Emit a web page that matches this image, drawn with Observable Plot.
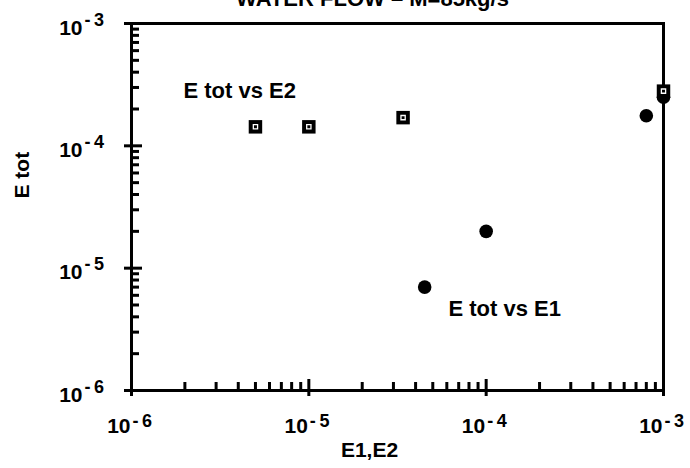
<!DOCTYPE html>
<html><head><meta charset="utf-8">
<script src="https://cdn.jsdelivr.net/npm/d3@7"></script>
<script src="https://cdn.jsdelivr.net/npm/@observablehq/plot@0.6"></script>
<style>body{margin:0;background:#fff;} svg{display:block;}</style>
</head><body><div id="chart"></div>
<script>
// E tot vs E2 (open squares)
const e2X = [5e-6, 1e-5, 3.4e-5, 1e-3];
const e2Y = [1.43e-4, 1.43e-4, 1.7e-4, 2.8e-4];
// E tot vs E1 (filled circles)
const e1X = [4.5e-5, 1e-4, 8e-4, 1e-3];
const e1Y = [7e-6, 2e-5, 1.76e-4, 2.5e-4];
// axis ticks
const decadeTicks = [1e-6, 1e-5, 1e-4, 1e-3];
const tickExponents = ["-6", "-5", "-4", "-3"];
const minorMultipliers = [2, 3, 4, 5, 6, 7, 8, 9];
const titleText = "WATER FLOW \u2013 M=85kg/s";

const minorTicks = decadeTicks.slice(0, -1).flatMap(d => minorMultipliers.map(m => m * d));
const e2 = e2X.map((x, i) => ({x, y: e2Y[i]}));
const e1 = e1X.map((x, i) => ({x, y: e1Y[i]}));
const expText = (d, i) => tickExponents[i].replace("-", "-\u2009");

const W = 690, H = 468, mL = 131, mR = 27, mT = 23, mB = 78;
const fw = W - mL - mR, fh = H - mT - mB;
const font = "Liberation Sans, Arial, Helvetica, sans-serif";

const chart = Plot.plot({
  width: W, height: H,
  marginLeft: mL, marginRight: mR, marginTop: mT, marginBottom: mB,
  style: {fontFamily: font, background: "#fff", overflow: "hidden"},
  x: {type: "log", domain: [1e-6, 1e-3]},
  y: {type: "log", domain: [1e-6, 1e-3]},
  marks: [
    // outward stubs of the major ticks
    Plot.axisX({ticks: decadeTicks, tickSize: 6, tickFormat: () => "", label: null, strokeWidth: 3, anchor: "bottom"}),
    Plot.axisY({ticks: decadeTicks, tickSize: 7, tickFormat: () => "", label: null, strokeWidth: 3, anchor: "left"}),
    // minor ticks (inward)
    Plot.ruleX(minorTicks, {x: d => d, insetTop: fh - 8, stroke: "#000", strokeWidth: 3}),
    Plot.ruleY(minorTicks, {y: d => d, insetRight: fw - 8, stroke: "#000", strokeWidth: 3}),
    // major ticks (inward)
    Plot.ruleX(decadeTicks, {x: d => d, insetTop: fh - 11, stroke: "#000", strokeWidth: 3}),
    Plot.ruleY(decadeTicks, {y: d => d, insetRight: fw - 11, stroke: "#000", strokeWidth: 3}),
    Plot.frame({stroke: "#000", strokeWidth: 3}),
    // x tick labels
    Plot.text(decadeTicks, {x: d => d, frameAnchor: "bottom", text: () => "10", textAnchor: "end", lineAnchor: "bottom", dy: 42, dx: -1, fontSize: 21, fontWeight: "bold"}),
    Plot.text(decadeTicks, {x: d => d, frameAnchor: "bottom", text: expText, textAnchor: "start", lineAnchor: "bottom", dy: 36, dx: 1, fontSize: 18, fontWeight: "bold"}),
    // y tick labels
    Plot.text(decadeTicks, {y: d => d, frameAnchor: "left", text: () => "10", textAnchor: "end", lineAnchor: "bottom", dy: 11, dx: -49, fontSize: 21, fontWeight: "bold"}),
    Plot.text(decadeTicks, {y: d => d, frameAnchor: "left", text: expText, textAnchor: "start", lineAnchor: "bottom", dy: 2, dx: -47, fontSize: 18, fontWeight: "bold"}),
    // axis labels
    Plot.text(["E1,E2"], {frameAnchor: "bottom", text: d => d, dx: 369 - (mL + fw / 2), dy: 66, lineAnchor: "bottom", fontSize: 21, fontWeight: "bold"}),
    Plot.text(["E tot"], {frameAnchor: "left", text: d => d, dx: 22 - mL, dy: 198 - (mT + fh / 2), rotate: -90, fontSize: 21, fontWeight: "bold"}),
    // title (clipped at top as in the reference)
    Plot.text([titleText], {frameAnchor: "top", text: d => d, dx: 372 - (mL + fw / 2), dy: 5 - mT, lineAnchor: "bottom", fontSize: 22, fontWeight: "bold"}),
    // annotations
    Plot.text(["E tot vs E2"], {frameAnchor: "top-left", text: d => d, textAnchor: "start", lineAnchor: "bottom", dx: 183 - mL, dy: 97 - mT, fontSize: 22, fontWeight: "bold"}),
    Plot.text(["E tot vs E1"], {frameAnchor: "top-left", text: d => d, textAnchor: "start", lineAnchor: "bottom", dx: 448 - mL, dy: 315 - mT, fontSize: 22, fontWeight: "bold"}),
    // data
    Plot.dot(e1, {x: "x", y: "y", r: 6.8, fill: "#000", stroke: "none"}),
    Plot.dot(e2, {x: "x", y: "y", symbol: "square", r: 7.6, fill: "#000", stroke: "none"}),
    Plot.dot(e2, {x: "x", y: "y", symbol: "square", r: 2.4, fill: "#000", stroke: "#fff", strokeWidth: 1.3})
  ]
});
document.getElementById("chart").appendChild(chart);
</script>
</body></html>
